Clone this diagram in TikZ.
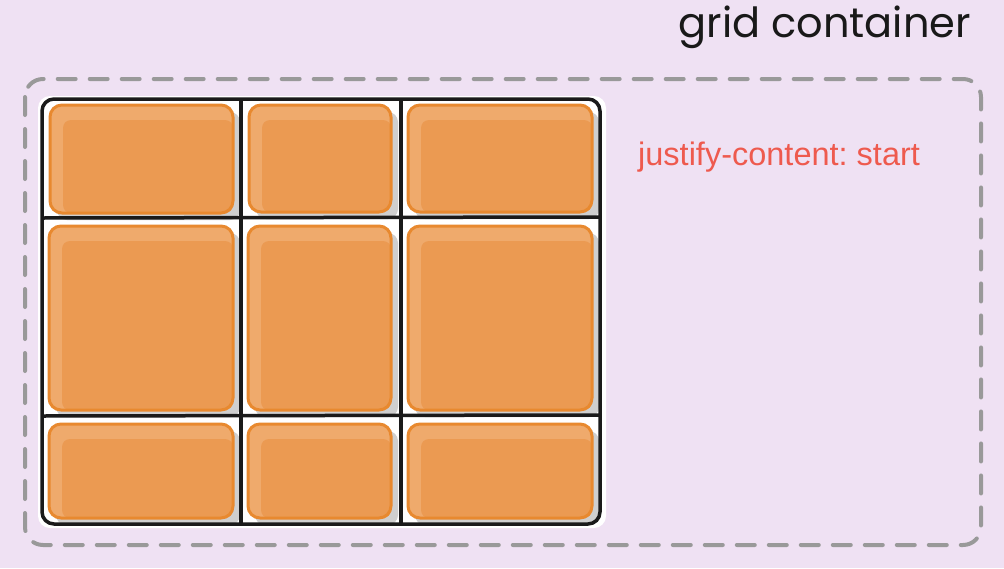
\documentclass[tikz,border=0pt]{standalone}
\usepackage{fontspec}
\setmainfont{Liberation Sans}
\newfontfamily\handfont{Poppins}
\frenchspacing
\definecolor{bgc}{HTML}{EFE1F3}
\definecolor{dashc}{HTML}{999999}
\definecolor{itemmain}{HTML}{EB9A52}
\definecolor{itemlight}{HTML}{EFAA6C}
\definecolor{itemedge}{HTML}{E8892F}
\definecolor{shadowc}{HTML}{CFCFCF}
\definecolor{redtext}{HTML}{EE5A4E}
\definecolor{gridline}{HTML}{1A1A1A}
\newcommand\griditem[5]{%
  \fill[shadowc,rounded corners=10pt] (#1+7,#2+7) rectangle (#3+7,#4+7);
  \fill[itemlight,rounded corners=12pt] (#1,#2) rectangle (#3,#4);
  \fill[itemmain,rounded corners=8pt] (#1+13,#2+15) rectangle (#3,#4);
  \node[itembox,minimum width=#3-#1,minimum height=#4-#2] (#5) at ({(#1+#3)/2},{(#2+#4)/2}) {};
}
\tikzset{
  itembox/.style={draw=itemedge,line width=3pt,rounded corners=12pt,inner sep=0pt,outer sep=0pt},
  dashbox/.style={draw=dashc,line width=4pt,dash pattern=on 18pt off 14pt,line cap=round,rounded corners=18pt},
  gridl/.style={draw=gridline,line width=3.5pt},
}
\begin{document}
\begin{tikzpicture}[x=1pt,y=-1pt]
\fill[bgc] (0,0) rectangle (1004,568);
\useasboundingbox (0,0) rectangle (1004,568);
% dashed container
\draw[dashbox] (25,79) rectangle (981,545);
% grid
\fill[white,rounded corners=12pt] (38,96) rectangle (606,528);
\griditem{50}{105}{233}{213}{i1}
\griditem{249}{105}{391}{212}{i2}
\griditem{408}{105}{592}{212}{i3}
\griditem{49}{226}{233}{410}{i4}
\griditem{248}{226}{391}{410}{i5}
\griditem{408}{226}{592}{410}{i6}
\griditem{49}{424}{233}{518}{i7}
\griditem{248}{424}{391}{518}{i8}
\griditem{408}{424}{592}{518}{i9}
\draw[gridl] (241,99) -- (241,524);
\draw[gridl] (401,99) -- (401,524);
\draw[gridl] (42,218) -- (600,217);
\draw[gridl] (42,416) -- (600,415);
\draw[gridl,rounded corners=12pt] (42,99) rectangle (600,524);
% labels
\node[anchor=east,font=\handfont\fontsize{41.5}{44}\selectfont,text=black!90,inner sep=0pt] (title) at (971,27) {grid container};
\node[anchor=west,font=\fontsize{32.5}{34}\selectfont,text=redtext,inner sep=0pt] (jc) at (638,157) {justify-content: start};
\end{tikzpicture}
\end{document}
